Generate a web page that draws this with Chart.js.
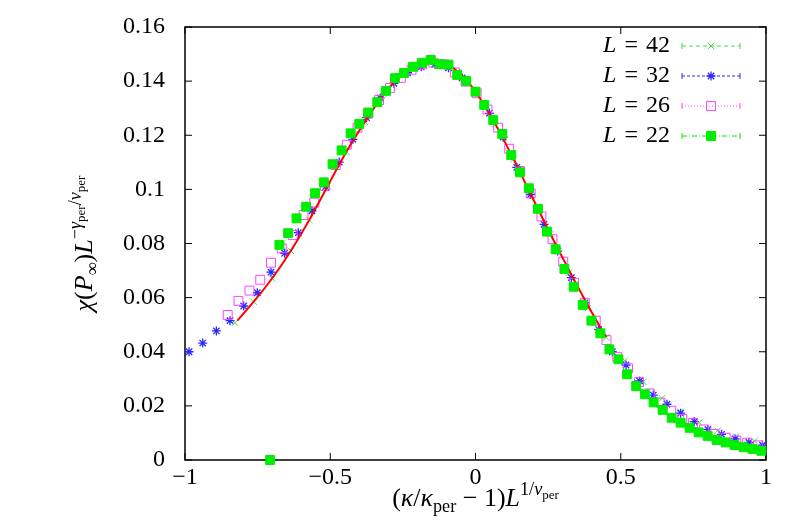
<!DOCTYPE html>
<html>
<head>
<meta charset="utf-8">
<script src="https://cdn.jsdelivr.net/npm/chart.js@4"></script>
<style>
html, body { margin: 0; padding: 0; background: #fff; }
</style>
</head>
<body>
<canvas id="chart" width="789" height="529"></canvas>
<script>
// L = 22 (filled green squares)
const x22 = [-0.707, -0.675, -0.645, -0.616, -0.583, -0.552, -0.522, -0.492, -0.461, -0.430,
    -0.400, -0.369, -0.338, -0.308, -0.277, -0.246, -0.215, -0.184, -0.154, -0.124,
    -0.093, -0.063, -0.032, 0.000, 0.030, 0.061, 0.092, 0.123, 0.153, 0.184,
    0.215, 0.246, 0.276, 0.306, 0.338, 0.369, 0.399, 0.430, 0.461, 0.492,
    0.522, 0.553, 0.583, 0.613, 0.644, 0.675, 0.706, 0.737, 0.768, 0.799,
    0.830, 0.861, 0.892, 0.923, 0.954, 0.984];
const y22 = [0, 0.0795, 0.0838, 0.0893, 0.0936, 0.0986, 0.1026, 0.1093, 0.1144, 0.1207,
    0.1242, 0.1284, 0.1322, 0.1364, 0.1411, 0.1430, 0.1453, 0.1468, 0.1478, 0.1463,
    0.1461, 0.1423, 0.1401, 0.1361, 0.1312, 0.1256, 0.1205, 0.1127, 0.1063, 0.1004,
    0.0928, 0.0844, 0.0779, 0.0706, 0.0640, 0.0573, 0.0515, 0.0468, 0.0409, 0.0372,
    0.0317, 0.0273, 0.0243, 0.0213, 0.0185, 0.0156, 0.0138, 0.0119, 0.0102, 0.0089,
    0.0074, 0.0065, 0.0055, 0.0047, 0.0041, 0.0034];

// L = 26 (open magenta squares)
const x26 = [-0.853, -0.816, -0.778, -0.741, -0.704, -0.667, -0.629, -0.592, -0.555, -0.518,
    -0.481, -0.443, -0.406, -0.369, -0.332, -0.294, -0.257, -0.220, -0.183, -0.145,
    -0.108, -0.071, -0.034, 0.004, 0.041, 0.078, 0.116, 0.153, 0.190, 0.227,
    0.265, 0.302, 0.339, 0.376, 0.414, 0.451, 0.488, 0.525, 0.563, 0.600,
    0.637, 0.674, 0.712, 0.749, 0.786, 0.823, 0.861, 0.898, 0.935, 0.972];
const y26 = [0.0536, 0.0588, 0.0626, 0.0666, 0.0729, 0.0782, 0.0831, 0.0905, 0.0951, 0.1012,
    0.1090, 0.1165, 0.1228, 0.1280, 0.1330, 0.1375, 0.1412, 0.1442, 0.1462, 0.1468,
    0.1462, 0.1432, 0.1398, 0.1355, 0.1295, 0.1228, 0.1150, 0.1068, 0.0985, 0.0900,
    0.0816, 0.0733, 0.0655, 0.0581, 0.0515, 0.0443, 0.0380, 0.0339, 0.0288, 0.0246,
    0.0212, 0.0182, 0.0152, 0.0137, 0.0113, 0.0096, 0.0082, 0.0072, 0.0064, 0.0054];

// L = 32 (blue stars)
const x32 = [-0.986, -0.939, -0.892, -0.845, -0.798, -0.751, -0.704, -0.657, -0.610, -0.563,
    -0.516, -0.469, -0.422, -0.375, -0.328, -0.281, -0.234, -0.187, -0.140, -0.093,
    -0.046, 0.001, 0.048, 0.095, 0.142, 0.189, 0.236, 0.283, 0.330, 0.377,
    0.424, 0.471, 0.518, 0.565, 0.612, 0.659, 0.706, 0.753, 0.800, 0.847,
    0.894, 0.941, 0.988];
const y32 = [0.0400, 0.0432, 0.0477, 0.0515, 0.0569, 0.0618, 0.0694, 0.0764, 0.0840, 0.0921,
    0.1010, 0.1101, 0.1185, 0.1265, 0.1338, 0.1392, 0.1431, 0.1453, 0.1463, 0.1449,
    0.1412, 0.1360, 0.1281, 0.1193, 0.1081, 0.0981, 0.0871, 0.0772, 0.0674, 0.0581,
    0.0482, 0.0400, 0.0351, 0.0292, 0.0240, 0.0206, 0.0173, 0.0142, 0.0113, 0.0095,
    0.0078, 0.0065, 0.0055];

// L = 42 (green crosses)
const x42 = [-0.828, -0.764, -0.700, -0.636, -0.572, -0.509, -0.445, -0.381, -0.317, -0.253,
    -0.189, -0.125, -0.061, 0.003, 0.067, 0.131, 0.194, 0.258, 0.322, 0.386,
    0.450, 0.514, 0.578, 0.642, 0.706, 0.770, 0.833, 0.897, 0.961];
const y42 = [0.0507, 0.0585, 0.0671, 0.0773, 0.0887, 0.1012, 0.1140, 0.1250, 0.1352, 0.1425,
    0.1462, 0.1470, 0.1432, 0.1357, 0.1240, 0.1112, 0.0975, 0.0835, 0.0690, 0.0561,
    0.0453, 0.0367, 0.0289, 0.0228, 0.0178, 0.0138, 0.0108, 0.0086, 0.0070];

// fitted curve (red)
const xFit = [-0.82, -0.77, -0.72, -0.67, -0.62, -0.57, -0.52, -0.47, -0.42, -0.37,
    -0.32, -0.27, -0.22, -0.17, -0.12, -0.07, -0.02, 0.03, 0.08, 0.13,
    0.18, 0.23, 0.28, 0.33, 0.38, 0.43, 0.45];
const yFit = [0.0515, 0.0577, 0.0643, 0.0717, 0.0800, 0.0891, 0.0990, 0.1090, 0.1183, 0.1267,
    0.1345, 0.1408, 0.1450, 0.1472, 0.1470, 0.1443, 0.1390, 0.1312, 0.1218, 0.1114,
    0.1005, 0.0895, 0.0788, 0.0685, 0.0585, 0.0490, 0.0455];

const sizes = [42, 32, 26, 22];
const xTicks = [-1, -0.5, 0, 0.5, 1];
const yTicks = [0, 0.02, 0.04, 0.06, 0.08, 0.1, 0.12, 0.14, 0.16];

const SERIF = '"Liberation Serif", "DejaVu Serif", serif';
const pts = (xs, ys) => xs.map((x, i) => ({ x: x, y: ys[i] }));
const fmt = v => {
    const s = String(+Math.abs(v).toFixed(2));
    return v < 0 ? '\u2212' + s : s;
};

// rich text parts: [text, italic, scale, shift as fraction of size]
function drawRich(ctx, parts, cx, base, size) {
    const font = p => (p[1] ? 'italic ' : '') + (size * (p[2] || 1)) + 'px ' + SERIF;
    let w = 0;
    for (const p of parts) {
        ctx.font = font(p);
        w += ctx.measureText(p[0]).width;
    }
    let x = cx - w / 2;
    for (const p of parts) {
        ctx.font = font(p);
        ctx.fillText(p[0], x, base + size * (p[3] || 0));
        x += ctx.measureText(p[0]).width;
    }
}

const SUB = 0.22, SUP = -0.42, SUPSUB = -0.27;
const xTitle = [['(', 0], ['\u03BA', 1], ['/', 0], ['\u03BA', 1], ['per', 0, 0.7, SUB],
    ['\u2005\u2212\u20051)', 0], ['L', 1], ['1/', 0, 0.7, SUP], ['\u03BD', 1, 0.7, SUP],
    ['per', 0, 0.5, SUPSUB]];
const yTitle = [['\u03C7', 1], ['(', 0], ['P', 1], ['\u221E', 0, 0.7, SUB], [')', 0], ['L', 1],
    ['\u2212', 0, 0.7, SUP], ['\u03B3', 1, 0.7, SUP], ['per', 0, 0.5, SUPSUB], ['/', 0, 0.7, SUP],
    ['\u03BD', 1, 0.7, SUP], ['per', 0, 0.5, SUPSUB]];

const framePlugin = {
    id: 'frame',
    beforeDatasetsDraw(chart) {
        const { ctx, chartArea: a, scales: { x, y } } = chart;
        ctx.save();
        ctx.strokeStyle = '#000';
        ctx.lineWidth = 1;
        ctx.beginPath();
        for (const t of x.ticks) {
            const px = x.getPixelForValue(t.value);
            ctx.moveTo(px, a.bottom); ctx.lineTo(px, a.bottom - 7);
            ctx.moveTo(px, a.top); ctx.lineTo(px, a.top + 7);
        }
        for (const t of y.ticks) {
            const py = y.getPixelForValue(t.value);
            ctx.moveTo(a.left, py); ctx.lineTo(a.left + 7, py);
            ctx.moveTo(a.right, py); ctx.lineTo(a.right - 7, py);
        }
        ctx.stroke();
        ctx.lineWidth = 1.5;
        ctx.strokeRect(a.left, a.top, a.right - a.left, a.bottom - a.top);
        ctx.restore();
    },
    afterDraw(chart) {
        const { ctx, chartArea: a } = chart;
        ctx.save();
        ctx.fillStyle = '#000';
        ctx.textBaseline = 'alphabetic';
        ctx.textAlign = 'left';
        drawRich(ctx, xTitle, (a.left + a.right) / 2, 506, 26);
        ctx.translate(92, (a.top + a.bottom) / 2);
        ctx.rotate(-Math.PI / 2);
        drawRich(ctx, yTitle, 0, 0, 26);
        ctx.restore();
    }
};

const keyPlugin = {
    id: 'keyBox',
    afterDraw(chart) {
        const { ctx, chartArea: a } = chart;
        ctx.save();
        sizes.forEach((L, i) => {
            const ds = chart.data.datasets.find(d => d.label === 'L = ' + L);
            const yy = a.top + 19 + i * 30;
            ctx.fillStyle = '#000';
            ctx.textBaseline = 'middle';
            ctx.textAlign = 'left';
            const right = a.right - 96;
            const num = '\u2004=\u2004' + L;
            ctx.font = '24px ' + SERIF;
            const wNum = ctx.measureText(num).width;
            ctx.fillText(num, right - wNum, yy);
            ctx.font = 'italic 24px ' + SERIF;
            const wL = ctx.measureText('L').width;
            ctx.fillText('L', right - wNum - wL, yy);

            const x0 = a.right - 84, x1 = a.right - 26;
            ctx.strokeStyle = ds.borderColor;
            ctx.lineWidth = 1;
            ctx.setLineDash(ds.keyDash);
            ctx.beginPath();
            ctx.moveTo(x0, yy); ctx.lineTo(x1, yy);
            ctx.stroke();
            ctx.setLineDash([]);
            ctx.beginPath();
            ctx.moveTo(x0, yy - 3); ctx.lineTo(x0, yy + 3);
            ctx.moveTo(x1, yy - 3); ctx.lineTo(x1, yy + 3);
            ctx.stroke();
            ctx.fillStyle = ds.backgroundColor;
            ctx.lineWidth = ds.borderWidth;
            Chart.helpers.drawPoint(ctx, {
                pointStyle: ds.pointStyle, radius: ds.pointRadius, rotation: 0, borderWidth: ds.borderWidth
            }, (x0 + x1) / 2, yy);
        });
        ctx.restore();
    }
};

const ctx = document.getElementById('chart').getContext('2d');

const myChart = new Chart(ctx, { // eslint-disable-line
    type: 'scatter',
    data: {
        datasets: [
            {
                label: 'L = 22',
                data: pts(x22, y22),
                pointStyle: 'rect',
                pointRadius: 6.3,
                backgroundColor: '#00ee00',
                borderColor: '#00ee00',
                borderWidth: 1,
                keyDash: [5, 2, 1, 2],
                clip: false,
                order: 1
            },
            {
                label: 'fit',
                data: pts(xFit, yFit),
                showLine: true,
                pointRadius: 0,
                borderColor: '#ff0000',
                borderWidth: 2,
                cubicInterpolationMode: 'monotone',
                order: 2
            },
            {
                label: 'L = 26',
                data: pts(x26, y26),
                pointStyle: 'rect',
                pointRadius: 6.3,
                backgroundColor: 'rgba(0,0,0,0)',
                borderColor: '#ff44ff',
                borderWidth: 1,
                keyDash: [1, 2],
                order: 3
            },
            {
                label: 'L = 32',
                data: pts(x32, y32),
                pointStyle: 'star',
                pointRadius: 4.5,
                backgroundColor: '#2a2aff',
                borderColor: '#2a2aff',
                borderWidth: 1.3,
                keyDash: [3, 2],
                clip: false,
                order: 4
            },
            {
                label: 'L = 42',
                data: pts(x42, y42),
                pointStyle: 'crossRot',
                pointRadius: 4.5,
                backgroundColor: '#44dd44',
                borderColor: '#44dd44',
                borderWidth: 1,
                keyDash: [4, 3],
                order: 5
            }
        ]
    },
    options: {
        responsive: false,
        animation: false,
        layout: { padding: { left: 0, right: 23, top: 27, bottom: 0 } },
        plugins: {
            legend: { display: false },
            tooltip: { enabled: false }
        },
        scales: {
            x: {
                type: 'linear',
                min: -1,
                max: 1,
                grid: { display: false },
                border: { display: false },
                afterBuildTicks: s => { s.ticks = xTicks.map(v => ({ value: v })); },
                afterFit: s => { s.height = 69; },
                ticks: {
                    color: '#000',
                    font: { family: SERIF, size: 24 },
                    padding: -5,
                    maxRotation: 0,
                    autoSkip: false,
                    callback: fmt
                }
            },
            y: {
                type: 'linear',
                min: 0,
                max: 0.16,
                grid: { display: false },
                border: { display: false },
                afterBuildTicks: s => { s.ticks = yTicks.map(v => ({ value: v })); },
                afterFit: s => { s.width = 185; },
                ticks: {
                    color: '#000',
                    font: { family: SERIF, size: 24 },
                    padding: 12,
                    autoSkip: false,
                    callback: fmt
                }
            }
        }
    },
    plugins: [framePlugin, keyPlugin]
});
</script>
</body>
</html>
